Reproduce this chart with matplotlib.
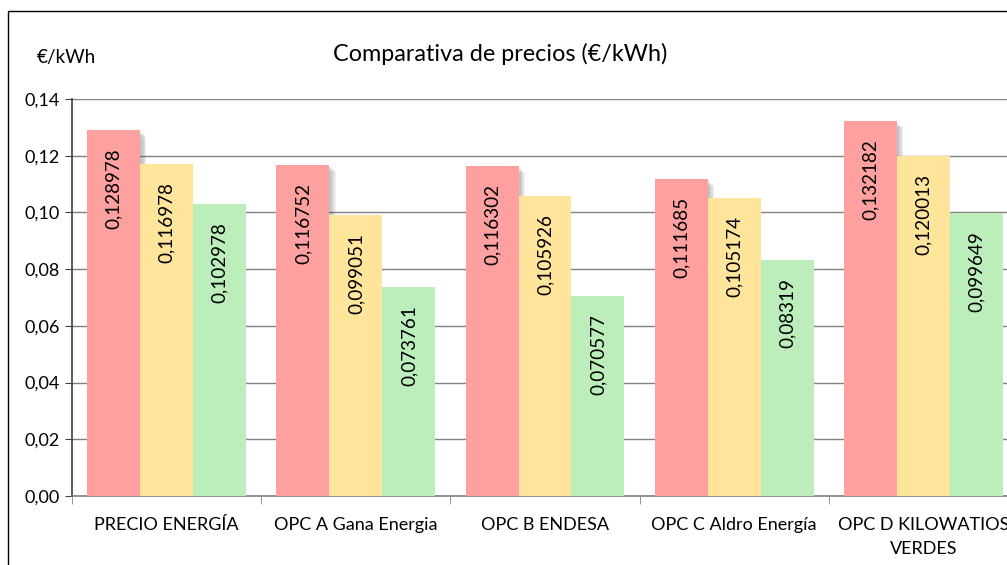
import matplotlib
matplotlib.use('Agg')
import matplotlib.pyplot as plt
import matplotlib.patheffects as pe
from matplotlib.patches import Rectangle
from matplotlib.ticker import FuncFormatter, FixedLocator
import numpy as np

plt.rcParams['font.family'] = ['Lato', 'DejaVu Sans']

# data
categories = ['PRECIO ENERGÍA', 'OPC A Gana Energia', 'OPC B ENDESA',
              'OPC C Aldro Energía', 'OPC D KILOWATIOS\nVERDES']
serie1 = [0.128978, 0.116752, 0.116302, 0.111685, 0.132182]
serie2 = [0.116978, 0.099051, 0.105926, 0.105174, 0.120013]
serie3 = [0.102978, 0.073761, 0.070577, 0.08319, 0.099649]
labels1 = ['0,128978', '0,116752', '0,116302', '0,111685', '0,132182']
labels2 = ['0,116978', '0,099051', '0,105926', '0,105174', '0,120013']
labels3 = ['0,102978', '0,073761', '0,070577', '0,08319', '0,099649']

colors = ['#FFA0A0', '#FFE59C', '#BCEEBC']

fig = plt.figure(figsize=(10.07, 5.65), dpi=100)

# outer chart border (cut off at right/bottom like the original)
fig.patches.append(Rectangle((8/1007, -0.1), 1.2, 1 - 11/565 + 0.1,
                             transform=fig.transFigure, fill=False,
                             edgecolor='black', linewidth=1))

ax = fig.add_axes([72/1007, 1 - 496/565, (1018 - 72)/1007, (496 - 99)/565])

x = np.arange(len(categories))
w = 0.28

shadow = [pe.SimplePatchShadow(offset=(o, -o), shadow_rgbFace='#555555', alpha=0.1)
          for o in (1.5, 2.5, 3.5, 4.5)] + [pe.Normal()]

series = [(serie1, labels1), (serie2, labels2), (serie3, labels3)]
for i, (vals, labs) in enumerate(series):
    bars = ax.bar(x + (i - 1) * w, vals, width=w, color=colors[i], zorder=3)
    if i == 0:
        for b in bars:
            b.set_path_effects(shadow)
    for b, lab in zip(bars, labs):
        ax.annotate(lab, (b.get_x() + b.get_width() / 2, b.get_height()),
                    xytext=(0, -13), textcoords='offset points',
                    rotation=90, ha='center', va='top', fontsize=13.6,
                    color='black', zorder=4)

ax.set_xlim(-0.5, 4.5)
ax.set_ylim(0, 0.14)
ax.set_yticks(np.arange(0, 0.141, 0.02))
ax.yaxis.set_major_formatter(FuncFormatter(lambda v, p: ('%.2f' % v).replace('.', ',')))
ax.grid(axis='y', color='#808080', linewidth=1, zorder=0)
ax.set_axisbelow(True)

ax.set_xticks(x)
ax.set_xticklabels(categories, linespacing=1.6)
ax.tick_params(axis='x', which='major', length=0, pad=15, labelsize=13)
ax.xaxis.set_minor_locator(FixedLocator(np.arange(-0.5, 5, 1)))
ax.tick_params(axis='x', which='minor', length=6, color='#808080', direction='out')
ax.tick_params(axis='y', length=5, color='#404040', labelsize=13, pad=4)

for s in ['top', 'right']:
    ax.spines[s].set_visible(False)
ax.spines['left'].set_color('#404040')
ax.spines['left'].set_linewidth(1.2)
ax.spines['bottom'].set_color('#808080')
ax.spines['bottom'].set_linewidth(1.2)

fig.text(500/1007, 1 - 54/565, 'Comparativa de precios (€/kWh)',
         ha='center', va='center', fontsize=16.8)
fig.text(37/1007, 1 - 57/565, '€/kWh', ha='left', va='center', fontsize=13.6)

fig.savefig('out.png', dpi=100)
